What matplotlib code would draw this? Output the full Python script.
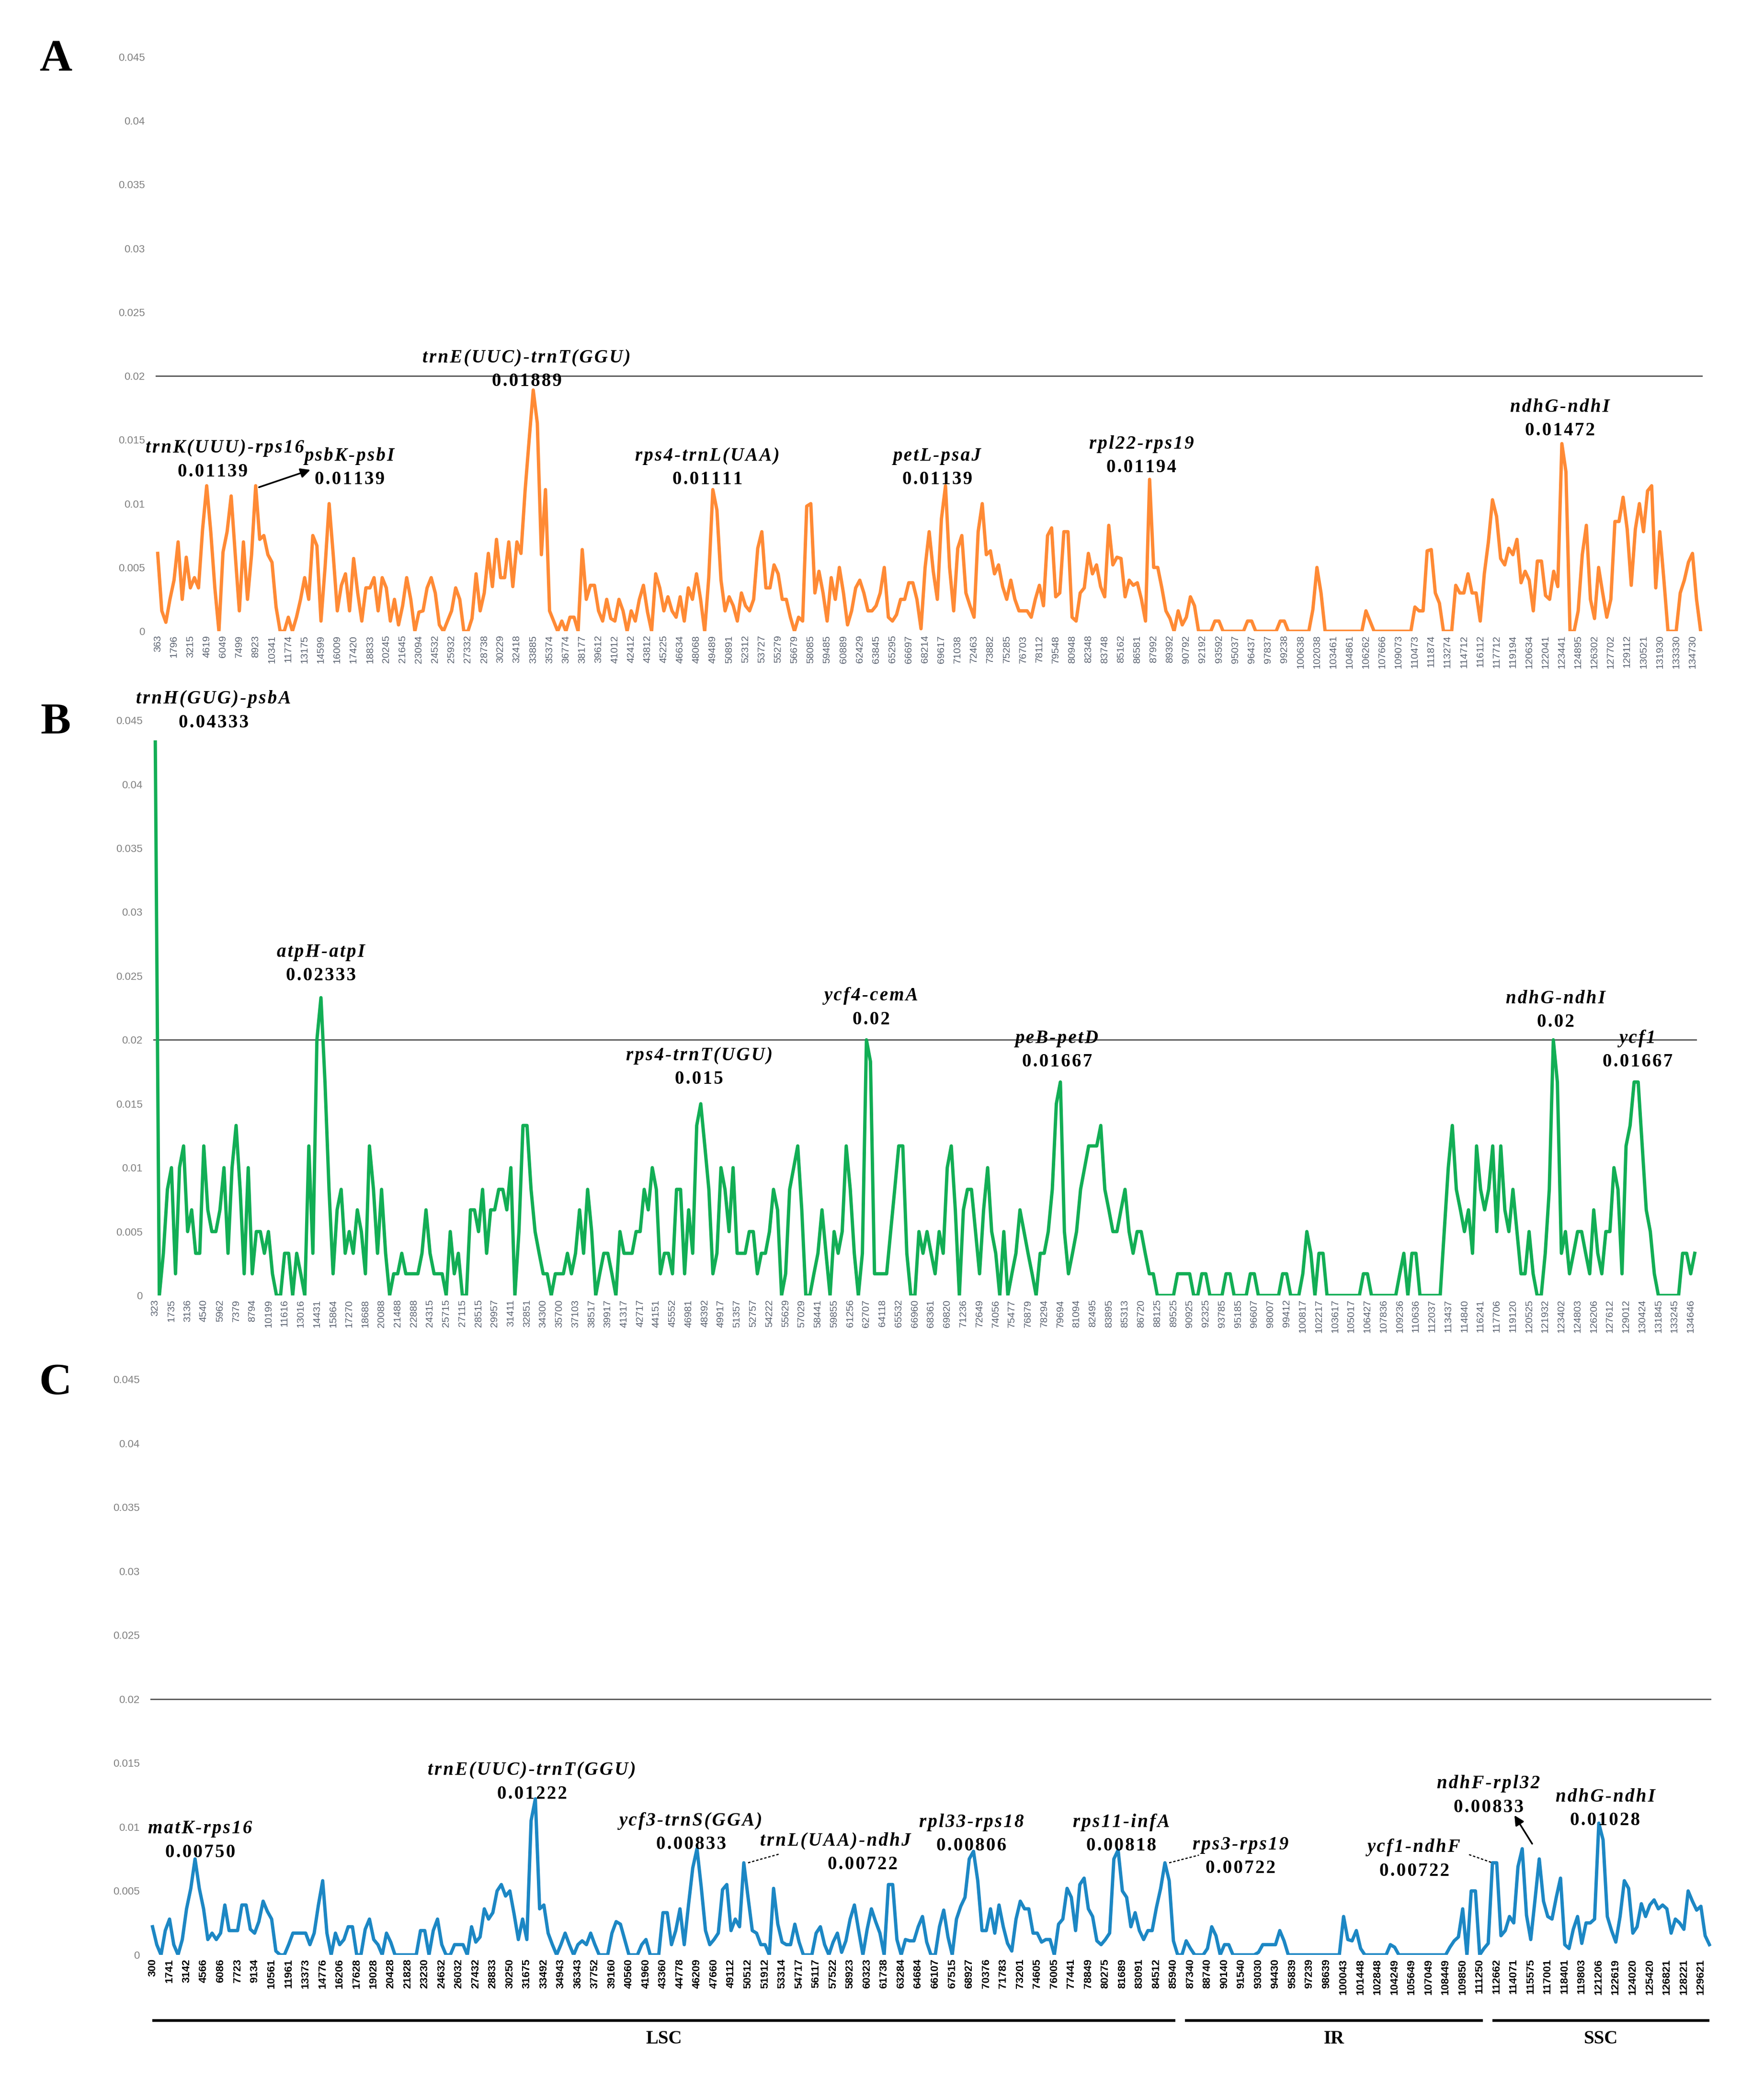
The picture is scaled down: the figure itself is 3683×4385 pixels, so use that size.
import numpy as np
import matplotlib.pyplot as plt

# ---------------- data ----------------
ticks_a = [363, 1796, 3215, 4619, 6049, 7499, 8923, 10341, 11774, 13175, 14599, 16009, 17420, 18833,
           20245, 21645, 23094, 24532, 25932, 27332, 28738, 30229, 32418, 33885, 35374, 36774, 38177,
           39612, 41012, 42412, 43812, 45225, 46634, 48068, 49489, 50891, 52312, 53727, 55279, 56679,
           58085, 59485, 60889, 62429, 63845, 65295, 66697, 68214, 69617, 71038, 72463, 73882, 75285,
           76703, 78112, 79548, 80948, 82348, 83748, 85162, 86581, 87992, 89392, 90792, 92192, 93592,
           95037, 96437, 97837, 99238, 100638, 102038, 103461, 104861, 106262, 107666, 109073, 110473,
           111874, 113274, 114712, 116112, 117712, 119194, 120634, 122041, 123441, 124895, 126302,
           127702, 129112, 130521, 131930, 133330, 134730]

pi_a = [
    0.0061, 0.0016, 0.0007, 0.0025, 0.0040, 0.0070, 0.0025, 0.0058, 0.0034, 0.0042,
    0.0034, 0.0080, 0.0114, 0.0078, 0.0034, 0.0000, 0.0062, 0.0078, 0.0106, 0.0060,
    0.0016, 0.0070, 0.0025, 0.0060, 0.0114, 0.0072, 0.0075, 0.0060, 0.0054, 0.0019,
    0.0000, 0.0000, 0.0011, 0.0000, 0.0011, 0.0025, 0.0042, 0.0025, 0.0075, 0.0067,
    0.0008, 0.0050, 0.0100, 0.0060, 0.0016, 0.0036, 0.0045, 0.0016, 0.0057, 0.0030,
    0.0008, 0.0034, 0.0034, 0.0042, 0.0016, 0.0042, 0.0034, 0.0008, 0.0025, 0.0005,
    0.0020, 0.0042, 0.0025, 0.0000, 0.0015, 0.0016, 0.0034, 0.0042, 0.0030, 0.0005,
    0.0000, 0.0008, 0.0016, 0.0034, 0.0025, 0.0000, 0.0000, 0.0010, 0.0045, 0.0016,
    0.0030, 0.0061, 0.0035, 0.0072, 0.0042, 0.0042, 0.0070, 0.0035, 0.0070, 0.0061,
    0.0110, 0.0150, 0.0189, 0.0163, 0.0060, 0.0111, 0.0016, 0.0008, 0.0000, 0.0008,
    0.0000, 0.0011, 0.0011, 0.0000, 0.0064, 0.0025, 0.0036, 0.0036, 0.0016, 0.0008,
    0.0025, 0.0010, 0.0008, 0.0025, 0.0016, 0.0000, 0.0016, 0.0008, 0.0025, 0.0036,
    0.0015, 0.0000, 0.0045, 0.0034, 0.0016,
    0.0027, 0.0016, 0.0011, 0.0027, 0.0008, 0.0034, 0.0025, 0.0045, 0.0025, 0.0000,
    0.0042, 0.0111, 0.0095, 0.0040, 0.0016, 0.0027, 0.0020, 0.0008, 0.0030, 0.0020,
    0.0016, 0.0025, 0.0065, 0.0078, 0.0034, 0.0034, 0.0052, 0.0045, 0.0025, 0.0025,
    0.0011, 0.0000, 0.0011, 0.0008, 0.0098, 0.0100, 0.0030, 0.0047, 0.0030, 0.0008,
    0.0042, 0.0025, 0.0050, 0.0030, 0.0005, 0.0016, 0.0034, 0.0040, 0.0030, 0.0016,
    0.0016, 0.0020, 0.0030, 0.0050, 0.0011, 0.0008, 0.0013, 0.0025, 0.0025, 0.0038,
    0.0038, 0.0025, 0.0002, 0.0050, 0.0078, 0.0047, 0.0025, 0.0088, 0.0114, 0.0050,
    0.0016, 0.0065, 0.0075, 0.0030, 0.0020, 0.0011, 0.0078, 0.0100, 0.0060, 0.0063,
    0.0045, 0.0052, 0.0035, 0.0025, 0.0040, 0.0025, 0.0016, 0.0016, 0.0016, 0.0011,
    0.0025, 0.0036, 0.0020, 0.0075, 0.0081, 0.0027, 0.0030, 0.0078, 0.0078, 0.0011,
    0.0008, 0.0030, 0.0034, 0.0061, 0.0045, 0.0052, 0.0035, 0.0027, 0.0083, 0.0052,
    0.0058, 0.0057, 0.0027, 0.0040, 0.0036, 0.0038, 0.0025, 0.0008, 0.0119, 0.0050,
    0.0050, 0.0034, 0.0016, 0.0010, 0.0000, 0.0016,
    0.0005, 0.0011, 0.0027, 0.0020, 0.0000, 0.0000, 0.0000, 0.0000, 0.0008, 0.0008,
    0.0000, 0.0000, 0.0000, 0.0000, 0.0000, 0.0000, 0.0008, 0.0008, 0.0000, 0.0000,
    0.0000, 0.0000, 0.0000, 0.0000, 0.0008, 0.0008, 0.0000, 0.0000, 0.0000, 0.0000,
    0.0000, 0.0000, 0.0017, 0.0050, 0.0030, 0.0000, 0.0000, 0.0000, 0.0000, 0.0000,
    0.0000, 0.0000, 0.0000, 0.0000, 0.0000, 0.0016, 0.0008, 0.0000, 0.0000, 0.0000,
    0.0000, 0.0000, 0.0000, 0.0000, 0.0000, 0.0000, 0.0000, 0.0019, 0.0016, 0.0016,
    0.0063, 0.0064, 0.0030, 0.0022, 0.0000, 0.0000, 0.0000, 0.0036, 0.0030, 0.0030,
    0.0045, 0.0030, 0.0030, 0.0008, 0.0045, 0.0070, 0.0103, 0.0090, 0.0057, 0.0052,
    0.0065, 0.0060, 0.0072, 0.0038, 0.0047, 0.0040, 0.0016, 0.0055, 0.0055, 0.0028,
    0.0025, 0.0047, 0.0035, 0.0147, 0.0125, 0.0000, 0.0000, 0.0016, 0.0060, 0.0083,
    0.0025, 0.0010, 0.0050, 0.0030, 0.0011, 0.0025, 0.0086, 0.0086, 0.0105, 0.0080,
    0.0036, 0.0080, 0.0100, 0.0078, 0.0110, 0.0114, 0.0034, 0.0078, 0.0040, 0.0000,
    0.0000, 0.0000, 0.0030, 0.0040, 0.0054, 0.0061, 0.0025, 0.0000,
]

ticks_b = [323, 1735, 3136, 4540, 5962, 7379, 8794, 10199, 11616, 13016, 14431, 15864, 17270, 18688,
           20088, 21488, 22888, 24315, 25715, 27115, 28515, 29957, 31411, 32851, 34300, 35700, 37103,
           38517, 39917, 41317, 42717, 44151, 45552, 46981, 48392, 49917, 51357, 52757, 54222, 55629,
           57029, 58441, 59855, 61256, 62707, 64118, 65532, 66960, 68361, 69820, 71236, 72649, 74056,
           75477, 76879, 78294, 79694, 81094, 82495, 83895, 85313, 86720, 88125, 89525, 90925, 92325,
           93785, 95185, 96607, 98007, 99412, 100817, 102217, 103617, 105017, 106427, 107836, 109236,
           110636, 112037, 113437, 114840, 116241, 117706, 119120, 120525, 121932, 123402, 124803,
           126206, 127612, 129012, 130424, 131845, 133245, 134646]

pi_b = [
    0.0433, 0.0000, 0.0033, 0.0083, 0.0100, 0.0017, 0.0100, 0.0117, 0.0050, 0.0067,
    0.0033, 0.0033, 0.0117, 0.0067, 0.0050, 0.0050, 0.0067, 0.0100, 0.0033, 0.0100,
    0.0133, 0.0083, 0.0017, 0.0100, 0.0017, 0.0050, 0.0050, 0.0033, 0.0050, 0.0017,
    0.0000, 0.0000, 0.0033, 0.0033, 0.0000, 0.0033, 0.0017, 0.0000, 0.0117, 0.0033,
    0.0200, 0.0233, 0.0167, 0.0083, 0.0017, 0.0067, 0.0083, 0.0033, 0.0050, 0.0033,
    0.0067, 0.0050, 0.0017, 0.0117, 0.0083, 0.0033, 0.0083, 0.0033, 0.0000, 0.0017,
    0.0017, 0.0033, 0.0017, 0.0017, 0.0017, 0.0017, 0.0033, 0.0067, 0.0033, 0.0017,
    0.0017, 0.0017, 0.0000, 0.0050, 0.0017, 0.0033, 0.0000, 0.0000, 0.0067, 0.0067,
    0.0050, 0.0083, 0.0033, 0.0067, 0.0067, 0.0083, 0.0083, 0.0067, 0.0100, 0.0000,
    0.0050, 0.0133, 0.0133, 0.0083, 0.0050, 0.0033, 0.0017, 0.0017, 0.0000, 0.0017,
    0.0017, 0.0017, 0.0033, 0.0017, 0.0033, 0.0067, 0.0033, 0.0083, 0.0050, 0.0000,
    0.0017, 0.0033, 0.0033, 0.0017, 0.0000, 0.0050, 0.0033, 0.0033, 0.0033, 0.0050,
    0.0050, 0.0083, 0.0067, 0.0100, 0.0083, 0.0017, 0.0033, 0.0033, 0.0017, 0.0083,
    0.0083, 0.0017, 0.0067, 0.0033, 0.0133, 0.0150, 0.0117, 0.0083, 0.0017, 0.0033,
    0.0100, 0.0083, 0.0050, 0.0100, 0.0033, 0.0033, 0.0033, 0.0050, 0.0050, 0.0017,
    0.0033, 0.0033, 0.0050, 0.0083, 0.0067, 0.0000, 0.0017, 0.0083, 0.0100, 0.0117,
    0.0067, 0.0000, 0.0000, 0.0017, 0.0033, 0.0067, 0.0033, 0.0000, 0.0050, 0.0033,
    0.0050, 0.0117, 0.0083, 0.0033, 0.0000, 0.0033, 0.0200, 0.0183, 0.0017, 0.0017,
    0.0017, 0.0017, 0.0050, 0.0083, 0.0117, 0.0117, 0.0033, 0.0000, 0.0000, 0.0050,
    0.0033, 0.0050, 0.0033, 0.0017, 0.0050, 0.0033, 0.0100, 0.0117, 0.0067, 0.0000,
    0.0067, 0.0083, 0.0083, 0.0050, 0.0017, 0.0067, 0.0100, 0.0050, 0.0033, 0.0000,
    0.0050, 0.0000, 0.0017, 0.0033, 0.0067, 0.0050, 0.0033, 0.0017, 0.0000, 0.0033,
    0.0033, 0.0050, 0.0083, 0.0150, 0.0167, 0.0050, 0.0017, 0.0033, 0.0050, 0.0083,
    0.0100, 0.0117, 0.0117, 0.0117, 0.0133, 0.0083, 0.0067, 0.0050, 0.0050, 0.0067,
    0.0083, 0.0050, 0.0033, 0.0050, 0.0050, 0.0033, 0.0017, 0.0017, 0.0000, 0.0000,
    0.0000, 0.0000, 0.0000, 0.0017, 0.0017, 0.0017, 0.0017, 0.0000, 0.0000, 0.0017,
    0.0017, 0.0000, 0.0000, 0.0000, 0.0000, 0.0017, 0.0017, 0.0000, 0.0000, 0.0000,
    0.0000, 0.0017, 0.0017, 0.0000, 0.0000, 0.0000, 0.0000, 0.0000, 0.0000, 0.0017,
    0.0017, 0.0000, 0.0000, 0.0000, 0.0017, 0.0050, 0.0033, 0.0000, 0.0033, 0.0033,
    0.0000, 0.0000, 0.0000, 0.0000, 0.0000, 0.0000, 0.0000, 0.0000, 0.0000, 0.0017,
    0.0017, 0.0000, 0.0000, 0.0000, 0.0000, 0.0000, 0.0000, 0.0000, 0.0017, 0.0033,
    0.0000, 0.0033, 0.0033, 0.0000, 0.0000, 0.0000, 0.0000, 0.0000, 0.0000, 0.0050,
    0.0100, 0.0133, 0.0083, 0.0067, 0.0050, 0.0067, 0.0033, 0.0117, 0.0083, 0.0067,
    0.0083, 0.0117, 0.0050, 0.0117, 0.0067, 0.0050, 0.0083, 0.0050, 0.0017, 0.0017,
    0.0050, 0.0017, 0.0000, 0.0000, 0.0033, 0.0083, 0.0200, 0.0167, 0.0033, 0.0050,
    0.0017, 0.0033, 0.0050, 0.0050, 0.0033, 0.0017, 0.0067, 0.0033, 0.0017, 0.0050,
    0.0050, 0.0100, 0.0083, 0.0017, 0.0117, 0.0133, 0.0167, 0.0167, 0.0117, 0.0067,
    0.0050, 0.0017, 0.0000, 0.0000, 0.0000, 0.0000, 0.0000, 0.0000, 0.0033, 0.0033,
    0.0017, 0.0033,
]

ticks_c = [300, 1741, 3142, 4566, 6086, 7723, 9134, 10561, 11961, 13373, 14776, 16206, 17628, 19028,
           20428, 21828, 23230, 24632, 26032, 27432, 28833, 30250, 31675, 33492, 34943, 36343, 37752,
           39160, 40560, 41960, 43360, 44778, 46209, 47660, 49112, 50512, 51912, 53314, 54717, 56117,
           57522, 58923, 60323, 61738, 63284, 64684, 66107, 67515, 68927, 70376, 71783, 73201, 74605,
           76005, 77441, 78849, 80275, 81689, 83091, 84512, 85940, 87340, 88740, 90140, 91540, 93030,
           94430, 95839, 97239, 98639, 100043, 101448, 102848, 104249, 105649, 107049, 108449, 109850,
           111250, 112662, 114071, 115575, 117001, 118401, 119803, 121206, 122619, 124020, 125420,
           126821, 128221, 129621]

pi_c = [
    0.0022, 0.0008, 0.0000, 0.0019, 0.0028, 0.0008, 0.0000, 0.0012, 0.0036, 0.0052,
    0.0075, 0.0052, 0.0036, 0.0012, 0.0017, 0.0012, 0.0017, 0.0039, 0.0019, 0.0019,
    0.0019, 0.0039, 0.0039, 0.0020, 0.0017, 0.0026, 0.0042, 0.0034, 0.0028, 0.0003,
    0.0000, 0.0000, 0.0008, 0.0017, 0.0017, 0.0017, 0.0017, 0.0008, 0.0017, 0.0039,
    0.0058, 0.0017, 0.0000, 0.0017, 0.0008, 0.0012, 0.0022, 0.0022, 0.0000, 0.0000,
    0.0020, 0.0028, 0.0012, 0.0008, 0.0000, 0.0017, 0.0010, 0.0000, 0.0000, 0.0000,
    0.0000, 0.0000, 0.0000, 0.0019, 0.0019, 0.0000, 0.0019, 0.0028, 0.0008, 0.0000,
    0.0000, 0.0008, 0.0008, 0.0008, 0.0000, 0.0022, 0.0010, 0.0014, 0.0036, 0.0028,
    0.0033, 0.0050, 0.0055, 0.0046, 0.0050, 0.0032, 0.0012, 0.0028, 0.0012, 0.0105,
    0.0122, 0.0036, 0.0039, 0.0017, 0.0008, 0.0000, 0.0008, 0.0017, 0.0008, 0.0000,
    0.0008, 0.0011, 0.0008, 0.0017, 0.0008, 0.0000, 0.0000, 0.0000, 0.0017, 0.0026,
    0.0024, 0.0012, 0.0000, 0.0000, 0.0000, 0.0008, 0.0012, 0.0000, 0.0000, 0.0000,
    0.0033, 0.0033, 0.0008, 0.0019, 0.0036, 0.0008, 0.0039, 0.0068, 0.0083, 0.0053,
    0.0019, 0.0008, 0.0012, 0.0017, 0.0051, 0.0055, 0.0019, 0.0028, 0.0022, 0.0072,
    0.0045, 0.0019, 0.0017, 0.0008, 0.0008, 0.0000, 0.0052, 0.0024, 0.0010, 0.0008,
    0.0008, 0.0024, 0.0010, 0.0000, 0.0000, 0.0000, 0.0017, 0.0022, 0.0008, 0.0000,
    0.0010, 0.0017, 0.0002, 0.0011, 0.0028, 0.0039, 0.0019, 0.0000, 0.0020, 0.0036,
    0.0026, 0.0017, 0.0000, 0.0055, 0.0055, 0.0012, 0.0000, 0.0012, 0.0011, 0.0011,
    0.0022, 0.0030, 0.0010, 0.0000, 0.0000, 0.0022, 0.0035, 0.0014, 0.0000, 0.0028,
    0.0038, 0.0045, 0.0075, 0.0081, 0.0058, 0.0019, 0.0019, 0.0036, 0.0017, 0.0039,
    0.0022, 0.0009, 0.0003, 0.0028, 0.0042, 0.0036, 0.0036, 0.0017, 0.0017, 0.0010,
    0.0012, 0.0012, 0.0000, 0.0024, 0.0028, 0.0052, 0.0045, 0.0019, 0.0055, 0.0060,
    0.0036, 0.0030, 0.0011, 0.0008, 0.0012, 0.0017, 0.0075, 0.0082, 0.0050, 0.0045,
    0.0022, 0.0033, 0.0019, 0.0012, 0.0019, 0.0019, 0.0037, 0.0052, 0.0072, 0.0058,
    0.0011, 0.0000, 0.0000, 0.0011, 0.0005, 0.0000, 0.0000, 0.0000, 0.0005, 0.0022,
    0.0015, 0.0000, 0.0008, 0.0008, 0.0000, 0.0000, 0.0000, 0.0000, 0.0000, 0.0000,
    0.0002, 0.0008, 0.0008, 0.0008, 0.0008, 0.0019, 0.0011, 0.0000, 0.0000, 0.0000,
    0.0000, 0.0000, 0.0000, 0.0000, 0.0000, 0.0000, 0.0000, 0.0000, 0.0000, 0.0000,
    0.0030, 0.0012, 0.0011, 0.0019, 0.0005, 0.0000, 0.0000, 0.0000, 0.0000, 0.0000,
    0.0000, 0.0008, 0.0006, 0.0000, 0.0000, 0.0000, 0.0000, 0.0000, 0.0000, 0.0000,
    0.0000, 0.0000, 0.0000, 0.0000, 0.0000, 0.0006, 0.0011, 0.0014, 0.0036, 0.0000,
    0.0050, 0.0050, 0.0000, 0.0005, 0.0009, 0.0072, 0.0072, 0.0015, 0.0019, 0.0030,
    0.0025, 0.0069, 0.0083, 0.0031, 0.0012, 0.0043, 0.0075, 0.0042, 0.0030, 0.0028,
    0.0045, 0.0060, 0.0008, 0.0005, 0.0020, 0.0030, 0.0009, 0.0025, 0.0025, 0.0028,
    0.0103, 0.0090, 0.0030, 0.0019, 0.0010, 0.0030, 0.0058, 0.0052, 0.0017, 0.0022,
    0.0040, 0.0030, 0.0039, 0.0043, 0.0036, 0.0039, 0.0036, 0.0017, 0.0028, 0.0025,
    0.0020, 0.0050, 0.0042, 0.0035, 0.0038, 0.0015, 0.0008,
]

yticks = [0, 0.005, 0.01, 0.015, 0.02, 0.025, 0.03, 0.035, 0.04, 0.045]

names_a = ["trnK(UUU)-rps16", "psbK-psbI", "trnE(UUC)-trnT(GGU)", "rps4-trnL(UAA)",
           "petL-psaJ", "rpl22-rps19", "ndhG-ndhI"]
peaks_a = ["0.01139", "0.01139", "0.01889", "0.01111", "0.01139", "0.01194", "0.01472"]

names_b = ["trnH(GUG)-psbA", "atpH-atpI", "rps4-trnT(UGU)", "ycf4-cemA", "peB-petD",
           "ndhG-ndhI", "ycf1"]
peaks_b = ["0.04333", "0.02333", "0.015", "0.02", "0.01667", "0.02", "0.01667"]

names_c = ["matK-rps16", "trnE(UUC)-trnT(GGU)", "ycf3-trnS(GGA)", "trnL(UAA)-ndhJ",
           "rpl33-rps18", "rps11-infA", "rps3-rps19", "ycf1-ndhF", "ndhF-rpl32", "ndhG-ndhI"]
peaks_c = ["0.00750", "0.01222", "0.00833", "0.00722", "0.00806", "0.00818", "0.00722",
           "0.00722", "0.00833", "0.01028"]

regions = ["LSC", "IR", "SSC"]
region_start = [300, 86890, 112310]
region_end = [86110, 111530, 129621]

# label placement (x in window index, y of the gene name line)
pos_a = [(16.5, 0.01434), (47, 0.01372), (90.4, 0.02141), (134.7, 0.01372),
         (191, 0.01372), (241, 0.01465), (343.5, 0.01756)]
pos_b = [(14.4, 0.04666), (41, 0.02686), (134.6, 0.01877), (177.2, 0.02343),
         (223.2, 0.02012), (346.6, 0.02323), (366.9, 0.02012)]
pos_c = [(11.2, 0.00985), (89.2, 0.01441), (126.6, 0.01047), (160.6, 0.00892),
         (192.5, 0.01037), (227.7, 0.01037), (255.8, 0.00861), (296.6, 0.0084),
         (314.1, 0.01338), (341.5, 0.01234)]
val_dx_a = [-3, 0, 0, 0, 0, 0, 0]
val_dx_c = [0, 0, 0, 6.3, 0, 0, 0, 0, 0, 0]

# ---------------- drawing ----------------
plt.rcParams['font.family'] = ['Liberation Serif', 'DejaVu Serif']

W, H = 3683, 4385
fig = plt.figure(figsize=(W / 100, H / 100), dpi=100)

LABEL_FS = 28
DY = 0.00185


def spaced(s):
    # the labels in the figure are letter-spaced
    return '\u200a'.join(s)


def panel(rect, values, ticks, color, tick_color, tick_weight, tick_fs):
    ax = fig.add_axes(rect)
    x = np.arange(len(values))
    ax.plot(x, values, color=color, lw=5, solid_joinstyle='round')
    ax.axhline(0.02, color='#555555', lw=2, zorder=0)
    ax.set_xlim(-0.5, len(values) - 0.5)
    ax.set_ylim(0, 0.045)
    ax.set_yticks(yticks)
    ax.set_yticklabels([f'{v:g}' for v in yticks], fontsize=16, color='#808080',
                       family='Liberation Sans')
    ax.set_xticks(np.arange(len(ticks)) * 4)
    ax.set_xticklabels([str(t) for t in ticks], rotation=90, fontsize=tick_fs,
                       color=tick_color, fontweight=tick_weight, family='Liberation Sans')
    ax.tick_params(axis='y', length=0, pad=16)
    ax.tick_params(axis='x', length=0, pad=6)
    for s in ax.spines.values():
        s.set_visible(False)
    return ax


def labels(ax, names, peaks, pos, val_dx=None):
    for i, (name, val, (x, y)) in enumerate(zip(names, peaks, pos)):
        ax.text(x, y, spaced(name), fontsize=LABEL_FS, fontweight='bold', style='italic',
                ha='center', va='center')
        dx = val_dx[i] if val_dx else 0
        ax.text(x + dx, y - DY, spaced(val), fontsize=LABEL_FS, fontweight='bold',
                ha='center', va='center')


ax_a = panel([325 / W, 0.6994, 0.877, 0.2735], pi_a, ticks_a, '#FF8A35', '#5a6270', 'normal', 15)
ax_b = panel([320 / W, 0.3831, 0.875, 0.2739], pi_b, ticks_b, '#12AE55', '#5a6270', 'normal', 15)
ax_c = panel([314 / W, 0.0691, 0.885, 0.2741], pi_c, ticks_c, '#1C87C4', 'black', 'bold', 16)

labels(ax_a, names_a, peaks_a, pos_a, val_dx_a)
labels(ax_b, names_b, peaks_b, pos_b)
labels(ax_c, names_c, peaks_c, pos_c, val_dx_c)

# arrows / leaders
ax_a.annotate('', xy=(37.7, 0.01268), xytext=(24.5, 0.01125),
              arrowprops=dict(arrowstyle='-|>', color='black', lw=2.5, mutation_scale=30))
ax_c.annotate('', xy=(320, 0.0110), xytext=(324.5, 0.0086),
              arrowprops=dict(arrowstyle='-|>', color='black', lw=2.5, mutation_scale=30))
for (x0, y0), (x1, y1) in [((140, 0.0072), (147.5, 0.0079)),
                           ((239, 0.0072), (246, 0.0078)),
                           ((309.5, 0.00784), (315.0, 0.0072))]:
    ax_c.plot([x0, x1], [y0, y1], color='black', lw=1.8, ls=(0, (2, 1.5)))

# genome regions under panel C
trans = ax_c.get_xaxis_transform()
tick_idx = np.arange(len(ticks_c)) * 4
for name, s, e in zip(regions, region_start, region_end):
    x0 = np.interp(s, ticks_c, tick_idx)
    x1 = np.interp(e, ticks_c, tick_idx) + (2 if name == 'SSC' else 0)
    ax_c.plot([x0, x1], [-0.114, -0.114], color='black', lw=4, transform=trans,
              clip_on=False, solid_capstyle='butt')
    ax_c.text((x0 + x1) / 2, -0.146, name, transform=trans, fontsize=28,
              fontweight='bold', ha='center', va='center')

# panel letters
for letter, y in [('A', 125), ('B', 1509), ('C', 2888)]:
    fig.text(116 / W, 1 - y / H, letter, fontsize=68, fontweight='bold',
             ha='center', va='center')

fig.savefig('out.png', dpi=100)
